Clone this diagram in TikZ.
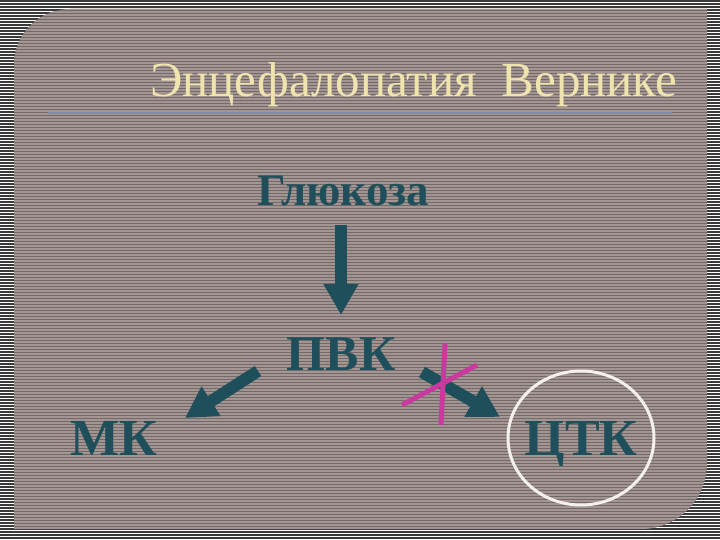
\documentclass[tikz,border=0pt]{standalone}
\usepackage{fontspec}
\setmainfont{Liberation Serif}
\usetikzlibrary{arrows.meta,shapes.geometric}
\definecolor{outerdark}{HTML}{3A3A3A}
\definecolor{panelbase}{HTML}{74696A}
\definecolor{panelline}{HTML}{A39591}
\definecolor{teal}{HTML}{1F4F5B}
\definecolor{cream}{HTML}{F0E4AE}
\definecolor{rulec}{HTML}{7D8EA6}
\definecolor{magentax}{HTML}{C83A9E}
\definecolor{ringc}{HTML}{F4F0EE}
\begin{document}
\begin{tikzpicture}[x=1pt,y=-1pt,
  word/.style={text=teal, inner sep=0pt, anchor=base, font=\bfseries\fontsize{#1}{#1}\selectfont},
  blockarrow/.style={draw=teal, line width=12pt, -{Triangle[length=31pt 0 0, width=33pt 0 0, fill=teal]}},
  crossline/.style={draw=magentax, line width=5pt},
  ring/.style={draw=ringc, line width=3pt}]
\useasboundingbox (0,0) rectangle (720,540);
% outer striped background
\fill[white] (0,0) rectangle (720,540);
\foreach \y in {1,4,...,540} \draw[outerdark, line width=1.4pt] (0,\y) -- (720,\y);
% panel
\def\panelpath{(14,529) -- (14,65) .. controls (14,34) and (39,9) .. (70,9) -- (707,9) -- (707,463) .. controls (707,499.5) and (677.5,529) .. (641,529) -- cycle}
\fill[panelbase] \panelpath;
\begin{scope}
\clip \panelpath;
\foreach \y in {9,12,...,531} \draw[panelline, line width=1.2pt] (14,\y) -- (707,\y);
\end{scope}
% title
\node (title) [text=cream, inner sep=0pt, anchor=base west, font=\fontsize{49}{49}\selectfont] at (150,97) {Энцефалопатия\ \ Вернике};
\draw[rulec, line width=2pt] (48,113) -- (672,113);
% words
\node (gluc) [word=45] at (343.5,206) {Глюкоза};
\node (pvk) [word=50] at (341,370) {ПВК};
\node (mk) [word=52] at (114,455) {МК};
\node (ctk) [word=52] at (581,455) {ЦТК};
\node (ringnode) [ring, ellipse, minimum width=146pt, minimum height=134pt, inner sep=0pt] at (581,438) {};
% arrows
\coordinate (a1s) at (341,225);
\coordinate (a1e) at (341,315);
\coordinate (a2s) at (258,371);
\coordinate (a2e) at (185,418);
\coordinate (a3s) at (422,372);
\coordinate (a3e) at (500,417);
\draw[blockarrow] (a1s) -- (a1e);
\draw[blockarrow] (a2s) -- (a2e);
\draw[blockarrow] (a3s) -- (a3e);
% cross
\coordinate (x1a) at (402,405);
\coordinate (x1b) at (477,365);
\coordinate (x2a) at (445,343);
\coordinate (x2b) at (441,425);
\draw[crossline] (x1a) -- (x1b);
\draw[crossline] (x2a) -- (x2b);
\end{tikzpicture}
\end{document}
